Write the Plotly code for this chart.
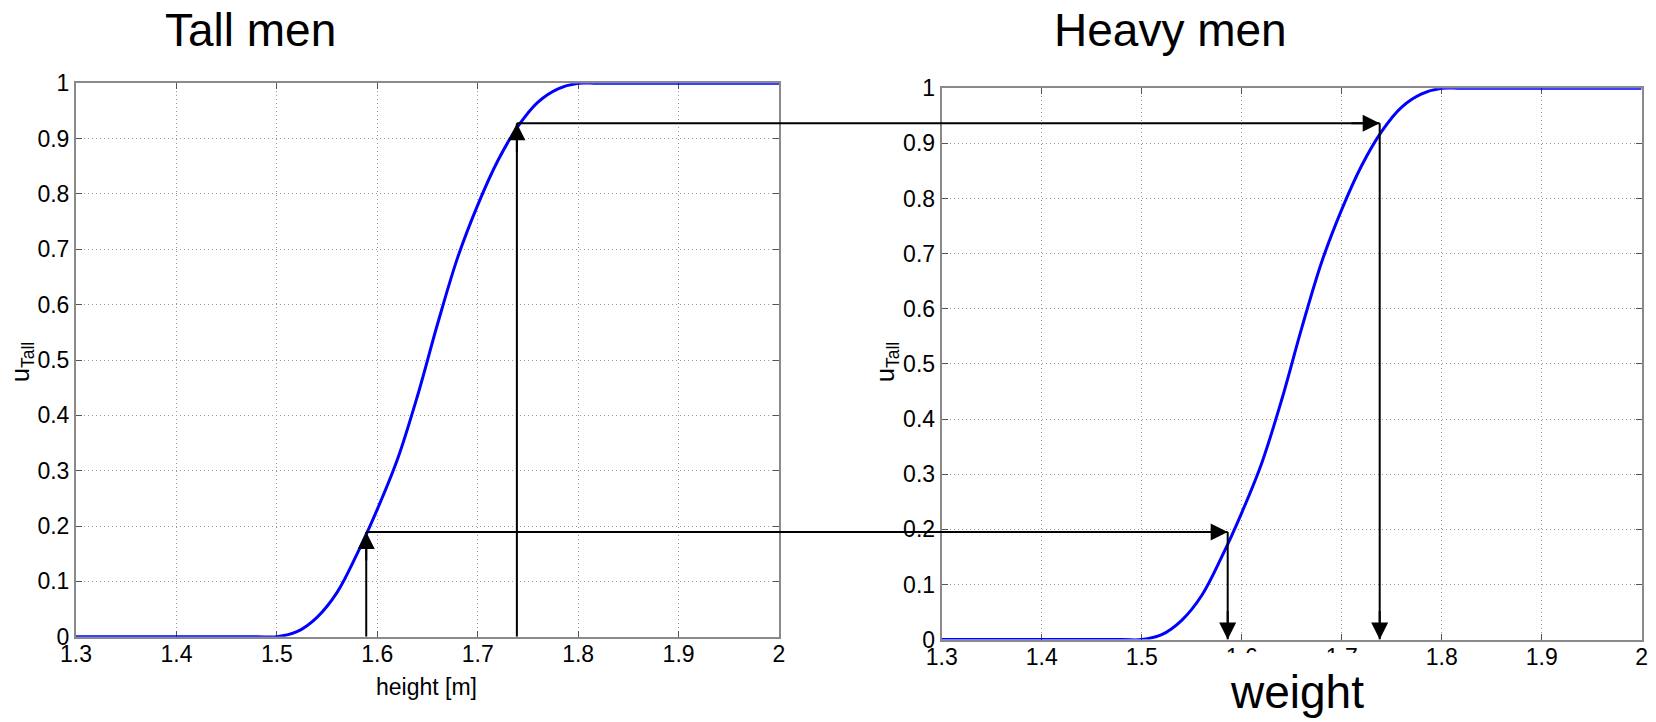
import plotly.graph_objects as go

# ---- data -------------------------------------------------------------
# membership curve (degree of membership vs. value)
curve_x = [1.30, 1.40, 1.48, 1.50, 1.52, 1.54, 1.56, 1.58, 1.60, 1.62, 1.64,
           1.66, 1.68, 1.70, 1.72, 1.74, 1.76, 1.78, 1.80, 1.82, 1.90, 2.00]
curve_u = [0.0, 0.0, 0.0, 0.0, 0.009, 0.035, 0.08, 0.15, 0.23, 0.32, 0.435,
           0.565, 0.685, 0.78, 0.86, 0.922, 0.966, 0.99, 1.0, 1.0, 1.0, 1.0]

# mapping: height -> membership -> weight
height_pts = [1.589, 1.739]
membership = [0.189, 0.928]
weight_pts = [1.586, 1.738]

x_ticks = [1.3, 1.4, 1.5, 1.6, 1.7, 1.8, 1.9, 2.0]
x_tick_text = ["1.3", "1.4", "1.5", "1.6", "1.7", "1.8", "1.9", "2"]
y_ticks = [0, 0.1, 0.2, 0.3, 0.4, 0.5, 0.6, 0.7, 0.8, 0.9, 1.0]
y_tick_text = ["0", "0.1", "0.2", "0.3", "0.4", "0.5", "0.6", "0.7", "0.8", "0.9", "1"]

panel_titles = ["Tall men", "Heavy men"]

# ---- geometry ---------------------------------------------------------
W, H = 1656, 722
FONT = "Liberation Sans, Arial, sans-serif"
LEFT = dict(x0=76, x1=779, top=83.3, bottom=636.7)
RIGHT = dict(x0=941.7, x1=1641.7, top=88.3, bottom=639.6)
X_RANGE = [1.3, 2.0]
Y_RANGE = [0.0, 1.0]


def dom_x(b):
    return [b["x0"] / W, b["x1"] / W]


def dom_y(b):
    return [1 - b["bottom"] / H, 1 - b["top"] / H]


def px_x(b, v):
    return b["x0"] + (v - X_RANGE[0]) / (X_RANGE[1] - X_RANGE[0]) * (b["x1"] - b["x0"])


def px_y(b, v):
    return b["bottom"] - (v - Y_RANGE[0]) / (Y_RANGE[1] - Y_RANGE[0]) * (b["bottom"] - b["top"])


def val_y(b, p):
    return Y_RANGE[0] + (b["bottom"] - p) / (b["bottom"] - b["top"]) * (Y_RANGE[1] - Y_RANGE[0])


# ---- figure -----------------------------------------------------------
fig = go.Figure()
for xa, ya in (("x", "y"), ("x2", "y2")):
    fig.add_trace(go.Scatter(
        x=curve_x, y=curve_u, xaxis=xa, yaxis=ya, mode="lines",
        line=dict(color="#0000ff", width=3, shape="spline", smoothing=1.0),
        showlegend=False, hoverinfo="skip"))

axis_style = dict(
    showline=True, linecolor="#8a8a8a", linewidth=2, mirror="allticks",
    ticks="inside", ticklen=6, tickwidth=1, tickcolor="#555555",
    showgrid=True, gridcolor="#9a9a9a", griddash="1px,3px", gridwidth=1,
    zeroline=False, layer="below traces", automargin=False,
    tickfont=dict(family=FONT, size=23, color="black"),
)

fig.update_layout(
    width=W, height=H, margin=dict(l=0, r=0, t=0, b=0, autoexpand=False),
    paper_bgcolor="white", plot_bgcolor="white", showlegend=False,
    xaxis=dict(domain=dom_x(LEFT), range=X_RANGE, tickvals=x_ticks,
               ticktext=x_tick_text, anchor="y", ticklabelstandoff=-4, **axis_style),
    yaxis=dict(domain=dom_y(LEFT), range=Y_RANGE, tickvals=y_ticks,
               ticktext=y_tick_text, anchor="x", **axis_style),
    xaxis2=dict(domain=dom_x(RIGHT), range=X_RANGE, tickvals=x_ticks,
                ticktext=x_tick_text, anchor="y2", ticklabelstandoff=-4, **axis_style),
    yaxis2=dict(domain=dom_y(RIGHT), range=Y_RANGE, tickvals=y_ticks,
                ticktext=y_tick_text, anchor="x2", **axis_style),
)

shapes = []
annotations = []
arrow = dict(showarrow=True, text="", arrowhead=2, arrowsize=1.7,
             arrowwidth=2, arrowcolor="black", standoff=0)

for h, u, w in zip(height_pts, membership, weight_pts):
    # up from the height axis to the curve
    shapes.append(dict(type="line", xref="x", yref="y", x0=h, y0=0, x1=h, y1=u,
                       line=dict(color="black", width=2), layer="above"))
    annotations.append(dict(xref="x", yref="y", x=h, y=u, ax=0, ay=30, **arrow))

    # across to the second panel at the same membership level
    y_pix = px_y(LEFT, u)
    u2 = val_y(RIGHT, y_pix)
    xl = px_x(LEFT, h)
    xr = px_x(RIGHT, w)
    shapes.append(dict(type="line", xref="paper", yref="paper",
                       x0=xl / W, x1=xr / W, y0=1 - y_pix / H, y1=1 - y_pix / H,
                       line=dict(color="black", width=2), layer="above"))
    annotations.append(dict(xref="x2", yref="y2", x=w, y=u2, ax=-30, ay=0, **arrow))

    # down to the weight axis
    shapes.append(dict(type="line", xref="x2", yref="y2", x0=w, y0=u2, x1=w, y1=0,
                       line=dict(color="black", width=2), layer="above"))
    annotations.append(dict(xref="x2", yref="y2", x=w, y=0, ax=0, ay=-30, **arrow))

# white box behind the "weight" caption
shapes.append(dict(type="rect", xref="paper", yref="paper",
                   x0=1212 / W, x1=1385 / W, y0=0, y1=1 - 653 / H,
                   fillcolor="white", line=dict(width=0), layer="above"))


def text_at(x, y, s, size, **kw):
    annotations.append(dict(xref="paper", yref="paper", x=x / W, y=1 - y / H,
                            text=s, showarrow=False, xanchor="center",
                            yanchor="middle",
                            font=dict(family=FONT, size=size, color="black"), **kw))


text_at(250, 30, panel_titles[0], 46)
text_at(1170, 30, panel_titles[1], 46)
text_at(1297, 692, "weight", 46)
text_at(427, 687, "height [m]", 23)
text_at(22, 362, "u<sub>Tall</sub>", 25, textangle=-90)
text_at(887, 362, "u<sub>Tall</sub>", 25, textangle=-90)

fig.update_layout(shapes=shapes, annotations=annotations)
fig.write_html("out.html")
